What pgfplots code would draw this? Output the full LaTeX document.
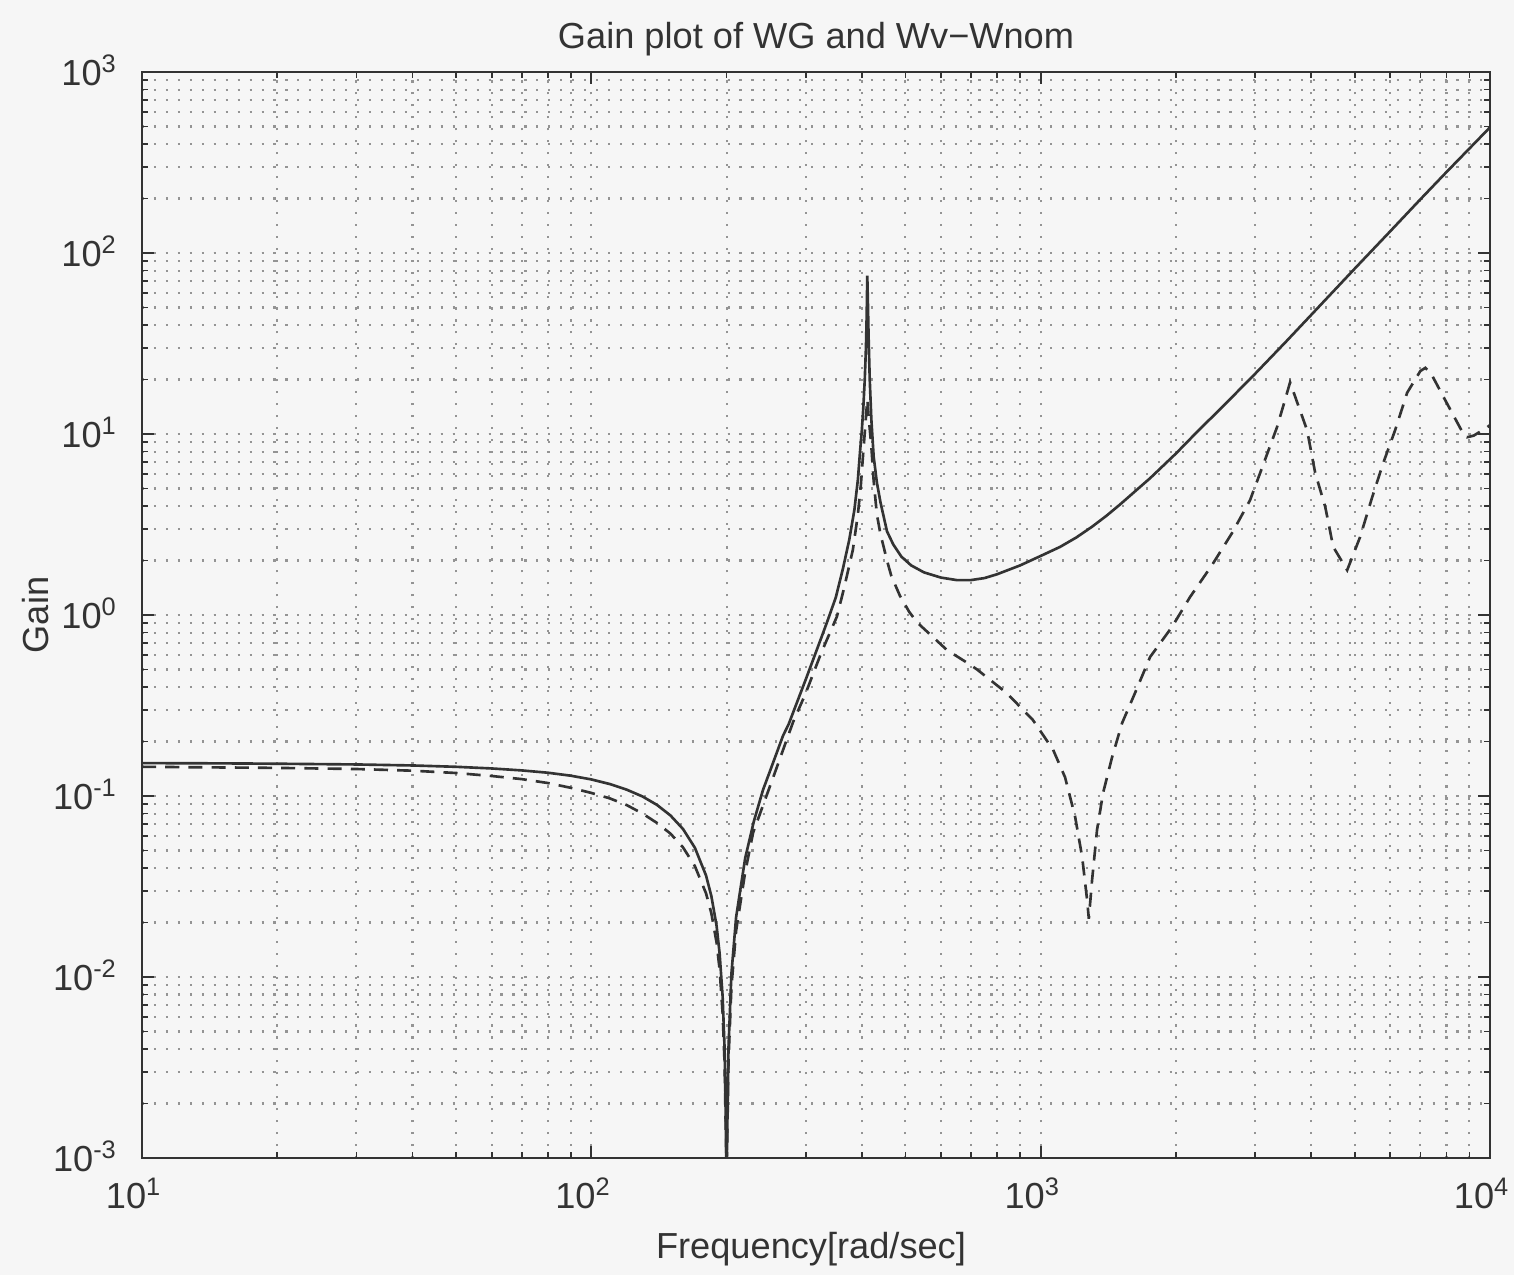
\documentclass[border=0pt]{standalone}
\usepackage{fontspec}
\setmainfont{Liberation Sans}
\usepackage{pgfplots}
\pgfplotsset{compat=1.18}
\definecolor{ink}{gray}{0.2}
\definecolor{paper}{gray}{0.965}
\definecolor{gridc}{gray}{0.58}
\begin{document}
\begin{tikzpicture}
\fill[paper] (0,0) rectangle (15.14,12.75);
\begin{axis}[
  at={(1.42cm,1.17cm)}, anchor=south west,
  scale only axis, width=13.48cm, height=10.86cm,
  xmode=log, ymode=log, log basis x=10, log basis y=10,
  xmin=10, xmax=10000, ymin=1e-3, ymax=1e3,
  axis line style={ink, line width=0.6pt},
  tick style={ink, line width=0.5pt},
  tick align=inside,
  major tick length=1.2mm, minor tick length=0.6mm,
  grid=both,
  major grid style={gridc, line width=0.6pt, dash pattern=on 0.6pt off 2.8pt},
  minor grid style={gridc, line width=0.6pt, dash pattern=on 0.6pt off 2.8pt},
  xticklabel={10\textsuperscript{\pgfmathparse{int(round(\tick))}\pgfmathresult}},
  yticklabel={10\textsuperscript{\pgfmathparse{int(round(\tick))}\pgfmathresult}},
  tick label style={font=\fontsize{10.3}{12}\selectfont, text=ink},
  xticklabel style={anchor=base, yshift=-5mm, xshift=-0.8mm},
  yticklabel style={anchor=base east, xshift=-1.2mm, yshift=-1.3mm},
  title={Gain plot of WG and Wv−Wnom},
  every axis title shift=0pt,
  title style={at={(axis description cs:0.5,1.0221)}, anchor=base, font=\fontsize{10.3}{12}\selectfont, text=ink},
  xlabel={Frequency[rad/sec]},
  xlabel style={at={(axis description cs:0.5,-0.0921)}, anchor=base, xshift=-0.5mm, font=\fontsize{10.3}{12}\selectfont, text=ink},
  ylabel={Gain},
  ylabel style={at={(axis description cs:-0.0697,0.5)}, anchor=base, rotate=0, font=\fontsize{10.3}{12}\selectfont, text=ink},
]
% WG (solid)
\addplot[ink, line width=0.75pt] table {
x y
10 0.152
15 0.1515
20 0.1508
30 0.1494
40 0.1475
50 0.1450
60 0.1420
70 0.1385
80 0.1345
90 0.1295
100 0.1235
110 0.1164
120 0.1083
130 0.0994
140 0.0893
150 0.0781
160 0.0657
170 0.0518
180 0.0364
185 0.0280
190 0.0192
193 0.0135
196 0.0078
198 0.0040
199.3 0.0015
200 0.0008
200.7 0.0015
202 0.0041
205 0.0104
210 0.0214
220 0.0454
230 0.0725
241 0.108
250 0.138
267 0.215
275 0.25
300 0.44
325 0.75
335 0.92
350 1.25
363 1.8
375 2.6
385 3.8
392 5.6
396 7.8
400 10.5
403 14
406 20
408.5 30
410 45
411.3 75
412.5 55
414 35
416.5 20
420 12
425 7.5
432 5.4
440 4.2
455 2.9
470 2.45
490 2.1
515 1.88
550 1.72
600 1.61
650 1.56
700 1.56
750 1.6
800 1.68
900 1.88
1000 2.12
1105 2.38
1200 2.68
1300 3.07
1400 3.53
1500 4.07
1752 5.7
2000 7.8
2265 10.7
2500 13.6
3000 21.5
3500 32
4000 45.5
5000 82
6000 132
7000 198
8000 280
9000 378
10000 495
};
% Wv-Wnom (dashed)
\addplot[ink, line width=0.75pt, dash pattern=on 4pt off 2.6pt] table {
x y
10 0.145
20 0.143
30 0.141
40 0.138
50 0.134
60 0.129
70 0.124
80 0.118
90 0.111
100 0.104
110 0.097
120 0.089
130 0.080
140 0.071
150 0.062
160 0.052
170 0.041
180 0.029
185 0.0225
190 0.0155
193 0.011
196 0.0063
198 0.0033
199.3 0.0013
200 0.0008
200.7 0.0013
202 0.0035
205 0.0088
210 0.018
220 0.038
229 0.0625
254 0.127
281 0.255
300 0.37
325 0.62
352 0.98
365 1.4
382 2.29
392 3.6
398 5.2
403 8.0
407 11.0
410 14
411.5 15.5
413.5 13
416 11
420 8.5
425 5.5
432 3.6
440 2.8
446 2.45
455 2.0
465 1.65
486 1.28
510 1.04
531 0.91
576 0.755
619 0.64
686 0.545
722 0.50
841 0.37
961 0.263
1066 0.18
1133 0.127
1193 0.077
1237 0.046
1268 0.027
1280 0.021
1301 0.034
1335 0.065
1377 0.104
1442 0.164
1518 0.253
1622 0.371
1752 0.586
1960 0.859
2150 1.257
2407 1.89
2667 2.84
2924 4.31
3080 6.1
3357 10.9
3500 15.5
3590 19.3
3917 10.5
4083 6.1
4300 3.95
4478 2.38
4810 1.77
5140 2.70
5470 4.49
5785 6.9
6150 10.5
6540 16.9
7000 22.3
7180 23.2
7400 21.5
7950 15.4
8710 10.1
8890 9.6
9200 9.8
9860 10.9
10000 11.2
};
\end{axis}
\pgfresetboundingbox
\path[use as bounding box] (0,0) rectangle (15.14,12.75);
\end{tikzpicture}
\end{document}
